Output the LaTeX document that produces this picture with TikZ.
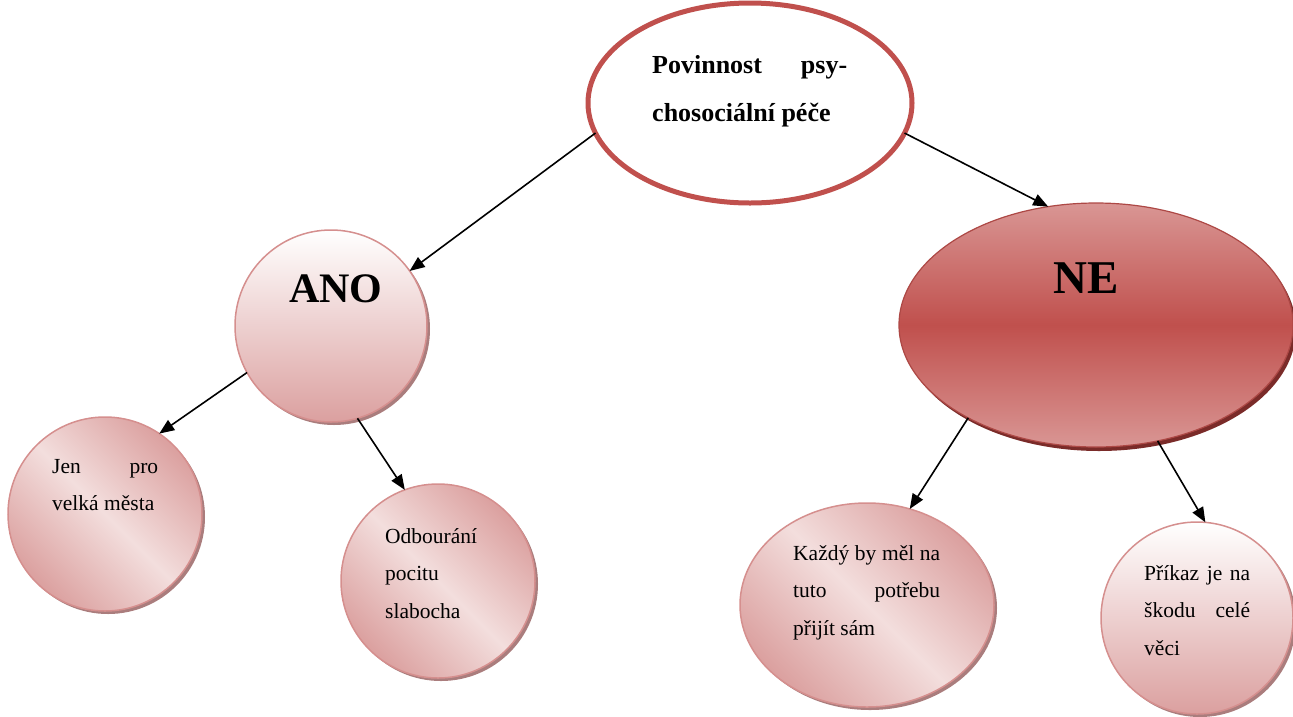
\documentclass[tikz,border=0pt]{standalone}
\usepackage{fontspec}
\setmainfont{Liberation Serif}
\usetikzlibrary{shapes.geometric,arrows.meta,shadows}
\definecolor{accent}{HTML}{C0504D}
\definecolor{accentlight}{HTML}{D99694}
\definecolor{blush}{HTML}{F3DEDD}
\definecolor{rose}{HTML}{DBA09F}
\definecolor{roseline}{HTML}{D58F8E}
\definecolor{shade}{RGB}{170,125,125}
\definecolor{darkred}{HTML}{7A2B29}
\begin{document}
\begin{tikzpicture}[x=1pt,y=-1pt,
  bubble/.style={inner sep=0, outer sep=0, draw=roseline, line width=1.5pt,
    drop shadow={shadow xshift=3pt, shadow yshift=-3pt, fill=shade, opacity=1}},
  vgrad/.style={top color=white, bottom color=rose},
  dgrad/.style={left color=rose, right color=rose, middle color=blush, shading angle=-45},
  link/.style={line width=1.6pt, -{Triangle[length=15pt,width=12pt]}},
  small/.style={inner sep=0, anchor=base west, font=\fontsize{21.5}{37.5}\selectfont},
  big/.style={inner sep=0, anchor=base, font=\bfseries\fontsize{#1}{#1}\selectfont},
]
\useasboundingbox (0,0) rectangle (1293,716);

% root question
\node[ellipse, inner sep=0, outer sep=0, draw=accent, line width=5pt, fill=white,
      minimum width=324pt, minimum height=200pt] (root) at (750,103) {};
\node[inner sep=0, anchor=base west, font=\bfseries\fontsize{26}{48}\selectfont] (roottext) at (652,73)
  {\vtop{\hbox to 195pt{Povinnost\hfill psy-}\hbox{chosociální péče}}};

% yes branch
\node[circle, bubble, vgrad, minimum size=192pt] (ano) at (331,326) {};
\node[big=42] (anotext) at (336,302) {ANO};

% no branch
\node[ellipse, inner sep=0, outer sep=0, draw=accent!90!black, line width=1.2pt,
      top color=accentlight, bottom color=accentlight, middle color=accent,
      drop shadow={shadow xshift=3pt, shadow yshift=-4pt, fill=darkred, opacity=1},
      minimum width=394pt, minimum height=244pt] (ne) at (1096,325) {};
\node[big=47] (netext) at (1086,293) {NE};

% leaves under ANO
\node[circle, bubble, dgrad, minimum size=194pt] (jen) at (105,514) {};
\node[small] (jentext) at (52,473)
  {\vtop{\hbox to 106pt{Jen\hfill pro}\hbox{velká města}}};

\node[circle, bubble, dgrad, minimum size=194pt] (odb) at (438,581) {};
\node[small] (odbtext) at (385,543)
  {\vtop{\hbox{Odbourání}\hbox{pocitu}\hbox{slabocha}}};

% leaves under NE
\node[ellipse, bubble, dgrad, minimum width=254pt, minimum height=204pt] (kazdy) at (867,605) {};
\node[small] (kazdytext) at (793,560)
  {\vtop{\hbox to 147pt{Každý\hfill by\hfill měl\hfill na}\hbox to 147pt{tuto\hfill potřebu}\hbox{přijít sám}}};

\node[circle, bubble, vgrad, minimum size=192pt] (prikaz) at (1197,618) {};
\node[small] (prikaztext) at (1144,580)
  {\vtop{\hbox to 106pt{Příkaz\hfill je\hfill na}\hbox to 106pt{škodu\hfill celé}\hbox{věci}}};

% connectors
\draw[link] (root.191) -- (ano.35);
\draw[link] (root.-11) -- (ne.112);
\draw[link] (ano.209) -- (jen.56);
\draw[link] (ano.-74) -- (odb.110);
\draw[link] (ne.-144) -- (kazdy.66);
\draw[link] (ne.-62) -- (prikaz.85);
\end{tikzpicture}
\end{document}
